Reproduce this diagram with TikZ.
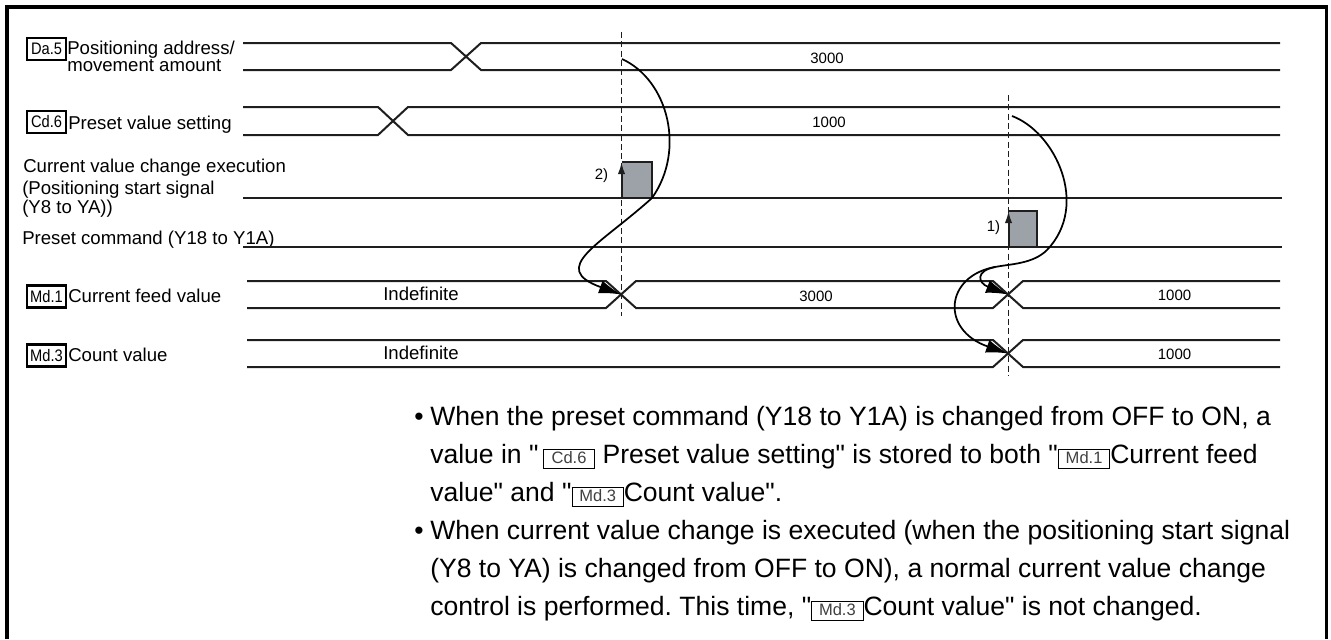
\documentclass[tikz,border=0pt]{standalone}
\usepackage{fontspec}
\setmainfont{Liberation Sans}[Ligatures=TeXOff]
\newfontfamily\tagfont[FakeStretch=0.88,Ligatures=TeXOff]{Liberation Sans}
\usetikzlibrary{arrows.meta}
\definecolor{pg}{HTML}{9DA2A8}
\definecolor{ln}{HTML}{1E1E1E}
\newcommand\ibox[1]{{\setlength\fboxrule{0.6pt}\setlength\fboxsep{1pt}\fbox{\makebox[36pt]{\rule[-2.6pt]{0pt}{11.6pt}{\fontsize{12.4pt}{13pt}\selectfont\color{black!75}#1}}}}}
\tikzset{
  sig/.style={line width=1.5pt, draw=ln},
  frameline/.style={line width=2.3pt, draw=black},
  tagbox/.style={draw, line width=1.6pt, minimum width=29.25pt, minimum height=16.5pt, inner sep=0pt, font=\tagfont\fontsize{12.5pt}{13pt}\selectfont},
  lbl/.style={anchor=base west, inner sep=0pt, font=\fontsize{13.95pt}{16pt}\selectfont},
  val/.style={anchor=base, inner sep=0pt, font=\fontsize{11.25pt}{13pt}\selectfont},
  vdash/.style={line width=0.75pt, dash pattern=on 4.5pt off 2.5pt, draw=ln},
  curve/.style={line width=1.3pt, draw=black},
  bigtip/.style={-{Latex[length=16.5pt,width=10pt]}},
  uptip/.style={-{Latex[length=9pt,width=5.5pt]}},
  btext/.style={anchor=base west, inner sep=0pt, font=\fontsize{19.9pt}{24pt}\selectfont},
}
\begin{document}
\frenchspacing
\begin{tikzpicture}[x=0.75pt,y=-0.75pt]
\useasboundingbox (0,0) rectangle (1331,639);
% frame
\draw[frameline] (7,639) -- (7,7) -- (1326.5,7) -- (1326.5,639);

% dashed time markers
\coordinate (d1t) at (621,32);
\coordinate (d1b) at (621,316);
\coordinate (d2t) at (1008,95);
\coordinate (d2b) at (1008,376);
\draw[vdash] (d1t) -- (d1b);
\draw[vdash] (d2t) -- (d2b);

% Da.5 row
\node[tagbox] (tda5) at (46.5,49) {Da.5};
\node[lbl] (lda5a) at (67,54) {Positioning address/};
\node[lbl] (lda5b) at (67,71.5) {movement amount};
\draw[sig] (243,43) -- (451,43) -- (481,70) -- (1280,70);
\draw[sig] (243,70) -- (451,70) -- (481,43) -- (1280,43);
\node[val] (vda5) at (827,63.3) {3000};

% Cd.6 row
\node[tagbox] (tcd6) at (46.5,122) {Cd.6};
\node[lbl] (lcd6) at (68,129) {Preset value setting};
\draw[sig] (243,107) -- (378,107) -- (408,135) -- (1280,135);
\draw[sig] (243,135) -- (378,135) -- (408,107) -- (1280,107);
\node[val] (vcd6) at (829,127.3) {1000};

% Current value change execution
\node[lbl] (lcv1) at (23,172.6) {Current value change execution};
\node[lbl] (lcv2) at (22,194) {(Positioning start signal};
\node[lbl] (lcv3) at (22,213.3) {(Y8 to YA))};
\fill[pg] (622,162) rectangle (652,198);
\draw[sig] (243,198) -- (1282,198);
\draw[sig] (622,162) -- (652,162) -- (652,198);
\coordinate (p2b) at (621.5,198);
\coordinate (p2t) at (621.5,162);
\draw[sig, uptip] (p2b) -- (p2t);
\node[val] (n2) at (601.5,179) {2)};

% Preset command
\node[lbl] (lpc) at (22,244.3) {Preset command (Y18 to Y1A)};
\fill[pg] (1009,211) rectangle (1037,247);
\draw[sig] (243,247) -- (1282,247);
\draw[sig] (1009,211) -- (1037,211) -- (1037,247);
\coordinate (p1b) at (1008.5,247);
\coordinate (p1t) at (1008.5,211);
\draw[sig, uptip] (p1b) -- (p1t);
\node[val] (n1) at (993.5,231.5) {1)};

% Md.1 row
\node[tagbox] (tmd1) at (46.5,296.5) {Md.1};
\node[lbl] (lmd1) at (68,302) {Current feed value};
\draw[sig] (247,281) -- (606,281) -- (636,308) -- (993,308) -- (1023,281) -- (1280,281);
\draw[sig] (247,308) -- (606,308) -- (636,281) -- (993,281) -- (1023,308) -- (1280,308);
\node[lbl] (imd1) at (383,300.5) {Indefinite};
\node[val] (v1md1) at (816,301) {3000};
\node[val] (v2md1) at (1174.5,300.7) {1000};

% Md.3 row
\node[tagbox] (tmd3) at (46.5,355.5) {Md.3};
\node[lbl] (lmd3) at (68,361) {Count value};
\draw[sig] (247,340) -- (993,340) -- (1023,367) -- (1280,367);
\draw[sig] (247,367) -- (993,367) -- (1023,340) -- (1280,340);
\node[lbl] (imd3) at (383,359.5) {Indefinite};
\node[val] (vmd3) at (1174.5,359.7) {1000};

% transition points
\coordinate (x1) at (621,294.5);
\coordinate (x2) at (1008,294.5);
\coordinate (x3) at (1008,353.5);
\coordinate (as) at (622,59);
\coordinate (am) at (652,198);
\coordinate (bs) at (1012,116);
\coordinate (bm) at (1047,250);
\coordinate (bsplit) at (995,267);

% curved arrow 2)
\draw[curve, bigtip] (as) .. controls (668,80) and (686,150) .. (am)
   .. controls (600,245) and (548,268) .. (x1);
% curved arrow 1)
\draw[curve] (bs) .. controls (1055,132) and (1090,205) .. (bm)
   .. controls (1033,264) and (1010,264) .. (bsplit);
\draw[curve, bigtip] (bsplit) .. controls (975,271) and (978,283) .. (x2);
\draw[curve, bigtip] (bsplit) .. controls (945,276) and (940,330) .. (x3);

% notes
\node[btext] (bu1) at (414,425.5) {\textbullet};
\node[btext] (t1) at (430,425.5) {When the preset command (Y18 to Y1A) is changed from OFF to ON, a};
\node[btext] (t2) at (430,463.5) {value in "\,\ibox{Cd.6} Preset value setting" is stored to both "\ibox{Md.1}Current feed};
\node[btext] (t3) at (430,501.5) {value" and "\ibox{Md.3}Count value".};
\node[btext] (bu2) at (414,539.5) {\textbullet};
\node[btext] (t4) at (430,539.5) {When current value change is executed (when the positioning start signal};
\node[btext] (t5) at (430,577.5) {(Y8 to YA) is changed from OFF to ON), a normal current value change};
\node[btext] (t6) at (430,615.5) {control is performed. This time, "\ibox{Md.3}Count value" is not changed.};
\end{tikzpicture}
\end{document}
